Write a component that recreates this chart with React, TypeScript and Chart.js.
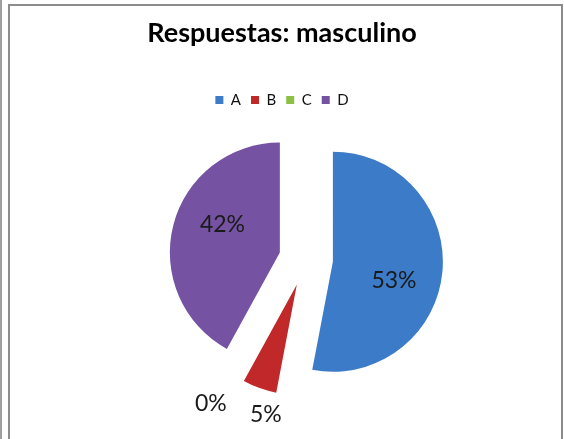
import React, { useEffect, useRef } from "react";
import { Chart, registerables } from "chart.js";

Chart.register(...registerables);

const TITLE = "Respuestas: masculino";
const categories = ["A", "B", "C", "D"];
const values = [53, 5, 0, 42];
const sliceColors = ["#3c7bc8", "#c0282a", "#8cc045", "#7652a3"];

const FONT = "Lato, 'Open Sans', sans-serif";
const EXPLODE = 27;
const RADIUS = 110;
const SHIFT_X = 24;
const LABEL_TURN = 0.2;

const layoutShift = {
  id: "layoutShift",
  afterLayout(chart: any) {
    const a = chart.chartArea;
    a.left += SHIFT_X * 2;
    a.width = a.right - a.left;
  },
};

const explode = {
  id: "explode",
  afterDatasetUpdate(_chart: any, args: any) {
    args.meta.data.forEach((arc: any) => {
      const mid = (arc.startAngle + arc.endAngle) / 2;
      arc.x += Math.cos(mid) * EXPLODE;
      arc.y += Math.sin(mid) * EXPLODE;
    });
  },
};

const pieLabels = {
  id: "pieLabels",
  afterDatasetsDraw(chart: any) {
    const ctx = chart.ctx;
    const meta = chart.getDatasetMeta(0);
    const data = chart.data.datasets[0].data as number[];
    const total = data.reduce((s, v) => s + v, 0);
    const inside: any[] = [];
    const outside: any[] = [];
    meta.data.forEach((arc: any, i: number) => {
      const mid = (arc.startAngle + arc.endAngle) / 2;
      const r = arc.outerRadius;
      const pct = Math.round((data[i] / total) * 100);
      const text = pct + "%";
      if (pct >= 10) {
        const a = mid + LABEL_TURN;
        inside.push({ x: arc.x + Math.cos(a) * r * 0.58, y: arc.y + Math.sin(a) * r * 0.58, text });
      } else {
        outside.push({ x: arc.x + Math.cos(mid) * (r + 28), y: arc.y + Math.sin(mid) * (r + 28), text });
      }
    });
    outside.sort((a, b) => a.x - b.x);
    for (let k = 1; k < outside.length; k++) {
      const p = outside[k - 1];
      const q = outside[k];
      const minGap = 55;
      if (q.x - p.x < minGap && Math.abs(q.y - p.y) < 26) {
        const d = (minGap - (q.x - p.x)) / 2;
        p.x -= d;
        q.x += d;
      }
    }
    ctx.save();
    ctx.font = `23px ${FONT}`;
    ctx.fillStyle = "#1a1a1a";
    ctx.textAlign = "center";
    ctx.textBaseline = "middle";
    [...inside, ...outside].forEach((l) => ctx.fillText(l.text, l.x, l.y));
    ctx.restore();
  },
};

export default function App() {
  const ref = useRef<HTMLCanvasElement | null>(null);

  useEffect(() => {
    if (!ref.current) return;
    const chart = new Chart(ref.current, {
      type: "pie",
      data: {
        labels: categories,
        datasets: [
          {
            data: values,
            backgroundColor: sliceColors,
            borderWidth: 0,
            radius: RADIUS,
          } as any,
        ],
      },
      options: {
        responsive: false,
        animation: false,
        layout: { padding: { left: 0, right: 0, top: 0, bottom: 38 } },
        plugins: {
          title: {
            display: true,
            text: TITLE,
            color: "#000",
            font: { family: FONT, size: 27, weight: "bold" },
            padding: { top: 17, bottom: 33 },
          },
          legend: {
            display: true,
            position: "top",
            labels: {
              color: "#111",
              font: { family: FONT, size: 15 },
              boxWidth: 8,
              boxHeight: 8,
              padding: 10,
            },
          },
          tooltip: { enabled: false },
        },
      },
      plugins: [layoutShift, explode, pieLabels],
    });
    return () => chart.destroy();
  }, []);

  return (
    <div
      style={{
        position: "fixed",
        left: 0,
        top: 0,
        width: 564,
        height: 439,
        background: "#fff",
        overflow: "hidden",
      }}
    >
      <div style={{ position: "absolute", left: 0, top: 0, width: 2, height: 439, background: "#a0a0a0" }} />
      <div
        style={{
          position: "absolute",
          left: 8,
          top: 4,
          width: 551,
          height: 460,
          border: "2px solid #8c8c8c",
        }}
      />
      <canvas ref={ref} width={564} height={439} style={{ position: "absolute", left: 0, top: 0 }} />
    </div>
  );
}
